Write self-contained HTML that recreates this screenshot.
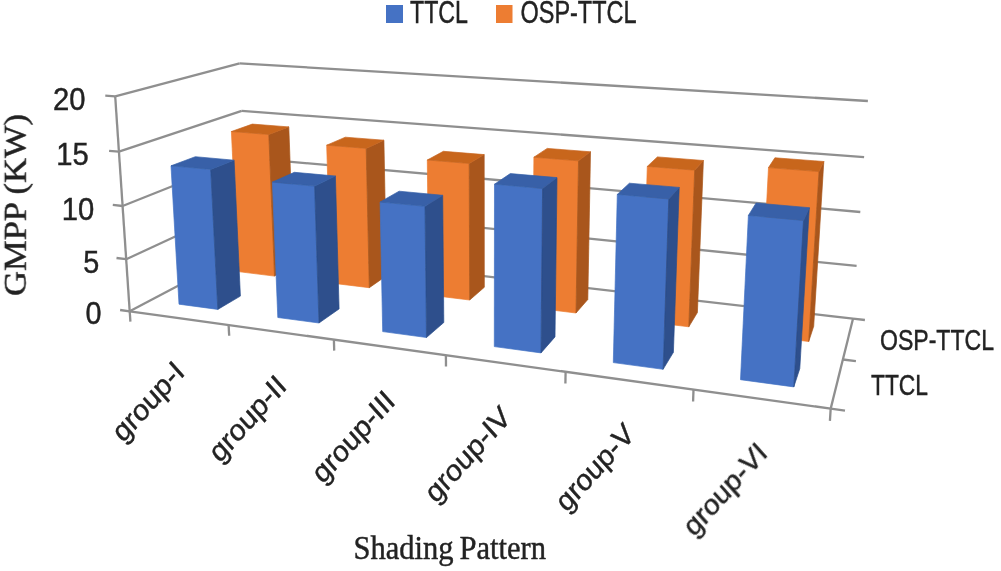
<!DOCTYPE html>
<html><head><meta charset="utf-8"><style>
html,body{margin:0;padding:0;background:#fff;}
svg{display:block;}
text{font-family:"Liberation Sans",sans-serif;fill:#222222;stroke:#222222;stroke-width:0.45px;}
.serif{font-family:"Liberation Serif",serif;}
</style></head><body>
<svg width="1001" height="571" viewBox="0 0 1001 571">
<defs><filter id="b" x="-2%" y="-2%" width="104%" height="104%"><feGaussianBlur stdDeviation="0.55"/></filter></defs>
<rect x="0" y="0" width="1001" height="571" fill="#fff"/>
<g filter="url(#b)">
<line x1="129.7" y1="311.3" x2="247.9" y2="248.9" stroke="#8F8F8F" stroke-width="2.3"/>
<line x1="247.9" y1="248.9" x2="853.0" y2="318.7" stroke="#8F8F8F" stroke-width="2.3"/>
<line x1="120.1" y1="310.0" x2="129.7" y2="311.3" stroke="#8F8F8F" stroke-width="2.3"/>
<line x1="126.2" y1="259.2" x2="245.9" y2="203.7" stroke="#8F8F8F" stroke-width="2.3"/>
<line x1="245.9" y1="203.7" x2="856.6" y2="265.9" stroke="#8F8F8F" stroke-width="2.3"/>
<line x1="116.5" y1="258.0" x2="126.2" y2="259.2" stroke="#8F8F8F" stroke-width="2.3"/>
<line x1="122.6" y1="206.0" x2="243.8" y2="157.7" stroke="#8F8F8F" stroke-width="2.3"/>
<line x1="243.8" y1="157.7" x2="860.3" y2="212.0" stroke="#8F8F8F" stroke-width="2.3"/>
<line x1="112.8" y1="204.9" x2="122.6" y2="206.0" stroke="#8F8F8F" stroke-width="2.3"/>
<line x1="118.9" y1="151.7" x2="241.7" y2="110.9" stroke="#8F8F8F" stroke-width="2.3"/>
<line x1="241.7" y1="110.9" x2="864.1" y2="157.1" stroke="#8F8F8F" stroke-width="2.3"/>
<line x1="109.1" y1="150.8" x2="118.9" y2="151.7" stroke="#8F8F8F" stroke-width="2.3"/>
<line x1="115.2" y1="96.3" x2="239.6" y2="63.3" stroke="#8F8F8F" stroke-width="2.3"/>
<line x1="239.6" y1="63.3" x2="867.9" y2="101.0" stroke="#8F8F8F" stroke-width="2.3"/>
<line x1="105.3" y1="95.6" x2="115.2" y2="96.3" stroke="#8F8F8F" stroke-width="2.3"/>
<line x1="129.7" y1="311.3" x2="115.2" y2="96.3" stroke="#8F8F8F" stroke-width="2.3"/>
<line x1="129.7" y1="311.3" x2="830.7" y2="408.6" stroke="#8F8F8F" stroke-width="2.3"/>
<line x1="830.7" y1="408.6" x2="853.0" y2="318.7" stroke="#8F8F8F" stroke-width="2.3"/>
<line x1="129.7" y1="311.3" x2="130.4" y2="321.6" stroke="#8F8F8F" stroke-width="2.3"/>
<line x1="228.6" y1="325.1" x2="229.2" y2="335.7" stroke="#8F8F8F" stroke-width="2.3"/>
<line x1="333.9" y1="339.7" x2="334.2" y2="350.6" stroke="#8F8F8F" stroke-width="2.3"/>
<line x1="445.9" y1="355.2" x2="446.0" y2="366.4" stroke="#8F8F8F" stroke-width="2.3"/>
<line x1="565.6" y1="371.8" x2="565.4" y2="383.4" stroke="#8F8F8F" stroke-width="2.3"/>
<line x1="693.5" y1="389.6" x2="693.1" y2="401.5" stroke="#8F8F8F" stroke-width="2.3"/>
<line x1="830.7" y1="408.6" x2="829.9" y2="420.9" stroke="#8F8F8F" stroke-width="2.3"/>
<line x1="830.7" y1="408.6" x2="845.0" y2="410.6" stroke="#8F8F8F" stroke-width="2.3"/>
<line x1="842.9" y1="359.5" x2="855.9" y2="361.2" stroke="#8F8F8F" stroke-width="2.3"/>
<line x1="853.0" y1="318.7" x2="864.9" y2="320.0" stroke="#8F8F8F" stroke-width="2.3"/>
<polygon points="238.0,271.6 274.5,276.1 268.8,134.5 231.4,131.5" fill="#ED7D31" stroke="#ED7D31" stroke-width="0.7" stroke-linejoin="round"/>
<polygon points="274.5,276.1 293.8,264.7 288.8,126.9 268.8,134.5" fill="#A9561B" stroke="#A9561B" stroke-width="0.7" stroke-linejoin="round"/>
<polygon points="231.4,131.5 268.8,134.5 288.8,126.9 252.3,124.1" fill="#C8661F" stroke="#C8661F" stroke-width="0.7" stroke-linejoin="round"/>
<polygon points="330.8,283.0 369.3,287.7 366.2,148.4 326.7,145.2" fill="#ED7D31" stroke="#ED7D31" stroke-width="0.7" stroke-linejoin="round"/>
<polygon points="369.3,287.7 386.5,275.7 383.9,140.2 366.2,148.4" fill="#A9561B" stroke="#A9561B" stroke-width="0.7" stroke-linejoin="round"/>
<polygon points="326.7,145.2 366.2,148.4 383.9,140.2 345.3,137.2" fill="#C8661F" stroke="#C8661F" stroke-width="0.7" stroke-linejoin="round"/>
<polygon points="428.8,295.0 469.7,300.0 469.2,163.5 427.3,160.0" fill="#ED7D31" stroke="#ED7D31" stroke-width="0.7" stroke-linejoin="round"/>
<polygon points="469.7,300.0 484.3,287.3 484.2,154.6 469.2,163.5" fill="#A9561B" stroke="#A9561B" stroke-width="0.7" stroke-linejoin="round"/>
<polygon points="427.3,160.0 469.2,163.5 484.2,154.6 443.4,151.3" fill="#C8661F" stroke="#C8661F" stroke-width="0.7" stroke-linejoin="round"/>
<polygon points="532.7,307.7 576.0,313.0 578.5,160.8 533.9,157.2" fill="#ED7D31" stroke="#ED7D31" stroke-width="0.7" stroke-linejoin="round"/>
<polygon points="576.0,313.0 587.8,299.5 590.5,151.8 578.5,160.8" fill="#A9561B" stroke="#A9561B" stroke-width="0.7" stroke-linejoin="round"/>
<polygon points="533.9,157.2 578.5,160.8 590.5,151.8 547.2,148.4" fill="#C8661F" stroke="#C8661F" stroke-width="0.7" stroke-linejoin="round"/>
<polygon points="642.8,321.2 688.8,326.8 694.7,170.2 647.3,166.4" fill="#ED7D31" stroke="#ED7D31" stroke-width="0.7" stroke-linejoin="round"/>
<polygon points="688.8,326.8 697.4,312.5 703.4,160.5 694.7,170.2" fill="#A9561B" stroke="#A9561B" stroke-width="0.7" stroke-linejoin="round"/>
<polygon points="647.3,166.4 694.7,170.2 703.4,160.5 657.4,156.9" fill="#C8661F" stroke="#C8661F" stroke-width="0.7" stroke-linejoin="round"/>
<polygon points="759.8,335.5 808.7,341.5 819.0,171.6 768.5,167.6" fill="#ED7D31" stroke="#ED7D31" stroke-width="0.7" stroke-linejoin="round"/>
<polygon points="808.7,341.5 813.7,326.3 823.8,161.5 819.0,171.6" fill="#A9561B" stroke="#A9561B" stroke-width="0.7" stroke-linejoin="round"/>
<polygon points="768.5,167.6 819.0,171.6 823.8,161.5 774.9,157.8" fill="#C8661F" stroke="#C8661F" stroke-width="0.7" stroke-linejoin="round"/>
<polygon points="179.0,304.2 217.8,309.4 210.7,169.4 171.0,165.8" fill="#4472C4" stroke="#4472C4" stroke-width="0.7" stroke-linejoin="round"/>
<polygon points="217.8,309.4 240.4,296.1 234.1,160.2 210.7,169.4" fill="#2D4F8C" stroke="#2D4F8C" stroke-width="0.7" stroke-linejoin="round"/>
<polygon points="171.0,165.8 210.7,169.4 234.1,160.2 195.3,156.7" fill="#3760A8" stroke="#3760A8" stroke-width="0.7" stroke-linejoin="round"/>
<polygon points="277.8,317.5 319.0,323.0 314.6,186.1 272.4,182.1" fill="#4472C4" stroke="#4472C4" stroke-width="0.7" stroke-linejoin="round"/>
<polygon points="319.0,323.0 339.1,308.9 335.4,176.0 314.6,186.1" fill="#2D4F8C" stroke="#2D4F8C" stroke-width="0.7" stroke-linejoin="round"/>
<polygon points="272.4,182.1 314.6,186.1 335.4,176.0 294.3,172.3" fill="#3760A8" stroke="#3760A8" stroke-width="0.7" stroke-linejoin="round"/>
<polygon points="382.7,331.6 426.5,337.5 425.0,206.3 380.1,202.0" fill="#4472C4" stroke="#4472C4" stroke-width="0.7" stroke-linejoin="round"/>
<polygon points="426.5,337.5 443.8,322.5 442.7,195.3 425.0,206.3" fill="#2D4F8C" stroke="#2D4F8C" stroke-width="0.7" stroke-linejoin="round"/>
<polygon points="380.1,202.0 425.0,206.3 442.7,195.3 399.1,191.2" fill="#3760A8" stroke="#3760A8" stroke-width="0.7" stroke-linejoin="round"/>
<polygon points="494.3,346.6 541.0,352.9 542.6,188.5 494.5,184.2" fill="#4472C4" stroke="#4472C4" stroke-width="0.7" stroke-linejoin="round"/>
<polygon points="541.0,352.9 555.0,336.9 557.0,177.6 542.6,188.5" fill="#2D4F8C" stroke="#2D4F8C" stroke-width="0.7" stroke-linejoin="round"/>
<polygon points="494.5,184.2 542.6,188.5 557.0,177.6 510.3,173.6" fill="#3760A8" stroke="#3760A8" stroke-width="0.7" stroke-linejoin="round"/>
<polygon points="613.3,362.6 663.1,369.3 668.8,199.0 617.3,194.4" fill="#4472C4" stroke="#4472C4" stroke-width="0.7" stroke-linejoin="round"/>
<polygon points="663.1,369.3 673.4,352.3 679.2,187.4 668.8,199.0" fill="#2D4F8C" stroke="#2D4F8C" stroke-width="0.7" stroke-linejoin="round"/>
<polygon points="617.3,194.4 668.8,199.0 679.2,187.4 629.4,183.2" fill="#3760A8" stroke="#3760A8" stroke-width="0.7" stroke-linejoin="round"/>
<polygon points="740.5,379.7 793.8,386.9 803.5,220.5 748.4,215.4" fill="#4472C4" stroke="#4472C4" stroke-width="0.7" stroke-linejoin="round"/>
<polygon points="793.8,386.9 799.8,368.6 809.3,207.7 803.5,220.5" fill="#2D4F8C" stroke="#2D4F8C" stroke-width="0.7" stroke-linejoin="round"/>
<polygon points="748.4,215.4 803.5,220.5 809.3,207.7 756.1,203.0" fill="#3760A8" stroke="#3760A8" stroke-width="0.7" stroke-linejoin="round"/>
<text x="85.5" y="110.4" text-anchor="end" font-size="32" textLength="32.5" lengthAdjust="spacingAndGlyphs">20</text>
<text x="88.7" y="164.5" text-anchor="end" font-size="32" textLength="32.5" lengthAdjust="spacingAndGlyphs">15</text>
<text x="94.3" y="219.5" text-anchor="end" font-size="32" textLength="32.5" lengthAdjust="spacingAndGlyphs">10</text>
<text x="99.2" y="272.7" text-anchor="end" font-size="32" textLength="16" lengthAdjust="spacingAndGlyphs">5</text>
<text x="101.6" y="324.2" text-anchor="end" font-size="32" textLength="16" lengthAdjust="spacingAndGlyphs">0</text>
<text transform="translate(186.0,373.6) scale(0.9,1) rotate(-45)" text-anchor="end" font-size="30" textLength="98.9925" lengthAdjust="spacingAndGlyphs">group-I</text>
<text transform="translate(288.0,387.7) scale(0.9,1) rotate(-45)" text-anchor="end" font-size="30" textLength="107.4345" lengthAdjust="spacingAndGlyphs">group-II</text>
<text transform="translate(396.6,402.8) scale(0.9,1) rotate(-45)" text-anchor="end" font-size="30" textLength="115.87650000000001" lengthAdjust="spacingAndGlyphs">group-III</text>
<text transform="translate(512.4,418.9) scale(0.9,1) rotate(-45)" text-anchor="end" font-size="30" textLength="120.60000000000001" lengthAdjust="spacingAndGlyphs">group-IV</text>
<text transform="translate(636.0,436.0) scale(0.9,1) rotate(-45)" text-anchor="end" font-size="30" textLength="109.076" lengthAdjust="spacingAndGlyphs">group-V</text>
<text transform="translate(768.5,454.4) scale(0.9,1) rotate(-45)" text-anchor="end" font-size="30" textLength="117.518" lengthAdjust="spacingAndGlyphs">group-VI</text>
<rect x="386" y="5" width="17" height="18" fill="#4472C4"/>
<text x="410" y="23.2" font-size="31" textLength="58" lengthAdjust="spacingAndGlyphs">TTCL</text>
<rect x="496" y="5" width="16.5" height="18" fill="#ED7D31"/>
<text x="520.5" y="23.2" font-size="31" textLength="116" lengthAdjust="spacingAndGlyphs">OSP-TTCL</text>
<text x="880" y="349.6" font-size="29" textLength="114" lengthAdjust="spacingAndGlyphs">OSP-TTCL</text>
<text x="871" y="395.3" font-size="29" textLength="57" lengthAdjust="spacingAndGlyphs">TTCL</text>
<text class="serif" transform="translate(25.8,296) rotate(-90)" font-size="31" textLength="182" lengthAdjust="spacingAndGlyphs">GMPP (KW)</text>
<text class="serif" x="353.5" y="559.4" font-size="34" textLength="100" lengthAdjust="spacingAndGlyphs">Shading</text>
<text class="serif" x="459.5" y="559.4" font-size="34" textLength="86.5" lengthAdjust="spacingAndGlyphs">Pattern</text>
</g>
</svg>
</body></html>
